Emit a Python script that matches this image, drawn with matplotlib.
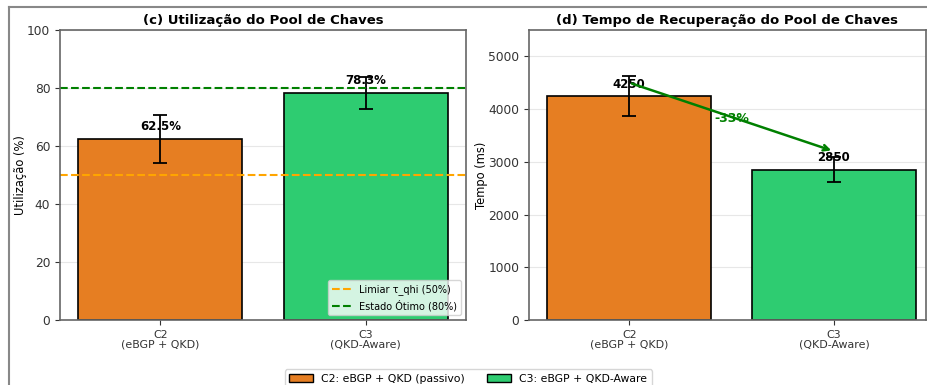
import matplotlib.pyplot as plt
from matplotlib.lines import Line2D
from matplotlib.patches import Patch

# Cenários comparados
cenarios = ['C2\n(eBGP + QKD)', 'C3\n(QKD-Aware)']
cores = ['#e67e22', '#2ecc71']
legenda_cenarios = ['C2: eBGP + QKD (passivo)', 'C3: eBGP + QKD-Aware']

# (c) utilização do pool de chaves (%)
utilizacao = [62.5, 78.3]
utilizacao_err = [8.3, 5.5]
limiar_qhi = 50
estado_otimo = 80

# (d) tempo de recuperação do pool (ms)
recuperacao = [4250, 2850]
recuperacao_err = [380, 240]

W, H = 927, 385
fig = plt.figure(figsize=(W / 100, H / 100), dpi=100)

def ax_rect(x0, y0, x1, y1):
    return [x0 / W, 1 - y1 / H, (x1 - x0) / W, (y1 - y0) / H]

ax1 = fig.add_axes(ax_rect(60, 30, 466, 320))
ax2 = fig.add_axes(ax_rect(529, 30, 926, 320))

x = range(len(cenarios))

# Painel (c)
ax1.bar(x, utilizacao, yerr=utilizacao_err, capsize=5, color=cores,
        edgecolor='black', linewidth=1.2, width=0.8,
        error_kw={'elinewidth': 1.3, 'capthick': 1.3})
ax1.axhline(limiar_qhi, color='orange', linestyle='--', linewidth=1.5,
            label='Limiar τ_qhi (50%)')
ax1.axhline(estado_otimo, color='green', linestyle='--', linewidth=1.5,
            label='Estado Ótimo (80%)')
for i, v in enumerate(utilizacao):
    ax1.text(i, v + 2, f'{v}%', ha='center', va='bottom',
             fontsize=8.5, fontweight='bold')
ax1.set_ylim(0, 100)
ax1.set_ylabel('Utilização (%)', fontsize=8.3)
ax1.yaxis.set_label_coords(-0.081, 0.5)
ax1.set_title('(c) Utilização do Pool de Chaves', fontsize=9.5,
              fontweight='bold', pad=4)
ax1.legend(loc='lower right', fontsize=7)

# Painel (d)
ax2.bar(x, recuperacao, yerr=recuperacao_err, capsize=5, color=cores,
        edgecolor='black', linewidth=1.2, width=0.8,
        error_kw={'elinewidth': 1.3, 'capthick': 1.3})
for i, v in enumerate(recuperacao):
    ax2.text(i, v + 100, f'{v}', ha='center', va='bottom',
             fontsize=8.5, fontweight='bold')
reducao = (recuperacao[1] - recuperacao[0]) / recuperacao[0] * 100
ax2.annotate('', xy=(1, recuperacao[1] + 350), xytext=(0, recuperacao[0] + 250),
             arrowprops=dict(arrowstyle='->', color='green', lw=1.8))
ax2.text(0.5, (recuperacao[0] + recuperacao[1]) / 2 + 270, f'{reducao:.0f}%',
         ha='center', va='center', color='green', fontsize=9, fontweight='bold')
ax2.set_ylim(0, 5500)
ax2.set_xlim(-0.49, 1.45)
ax2.set_ylabel('Tempo (ms)', fontsize=8.3)
ax2.yaxis.set_label_coords(-0.103, 0.5)
ax2.set_title('(d) Tempo de Recuperação do Pool de Chaves', fontsize=9.5,
              fontweight='bold', pad=4)

for ax in (ax1, ax2):
    ax.set_xticks(list(x))
    ax.set_xticklabels(cenarios, fontsize=7.9, color='#333333', linespacing=0.95)
    ax.tick_params(axis='y', labelsize=8.8, colors='#333333')
    ax.tick_params(axis='x', colors='#333333')
    ax.grid(axis='y', alpha=0.3)
    ax.set_axisbelow(True)
    for s in ax.spines.values():
        s.set_color('#666666')
        s.set_linewidth(1.2)

# Legenda comum dos cenários
handles = [Patch(facecolor=c, edgecolor='black', label=l)
           for c, l in zip(cores, legenda_cenarios)]
fig.legend(handles=handles, loc='upper center', ncol=2, fontsize=7.8,
           bbox_to_anchor=(0.505, 1 - 364 / H), frameon=True,
           handlelength=2.2, columnspacing=2.0)

# Moldura da figura
fig.add_artist(Line2D([9 / W, 9 / W], [0, 1 - 7 / H], color='#888888', lw=1.5))
fig.add_artist(Line2D([9 / W, 1], [1 - 7 / H, 1 - 7 / H], color='#888888', lw=1.5))

fig.savefig('out.png', dpi=100)
